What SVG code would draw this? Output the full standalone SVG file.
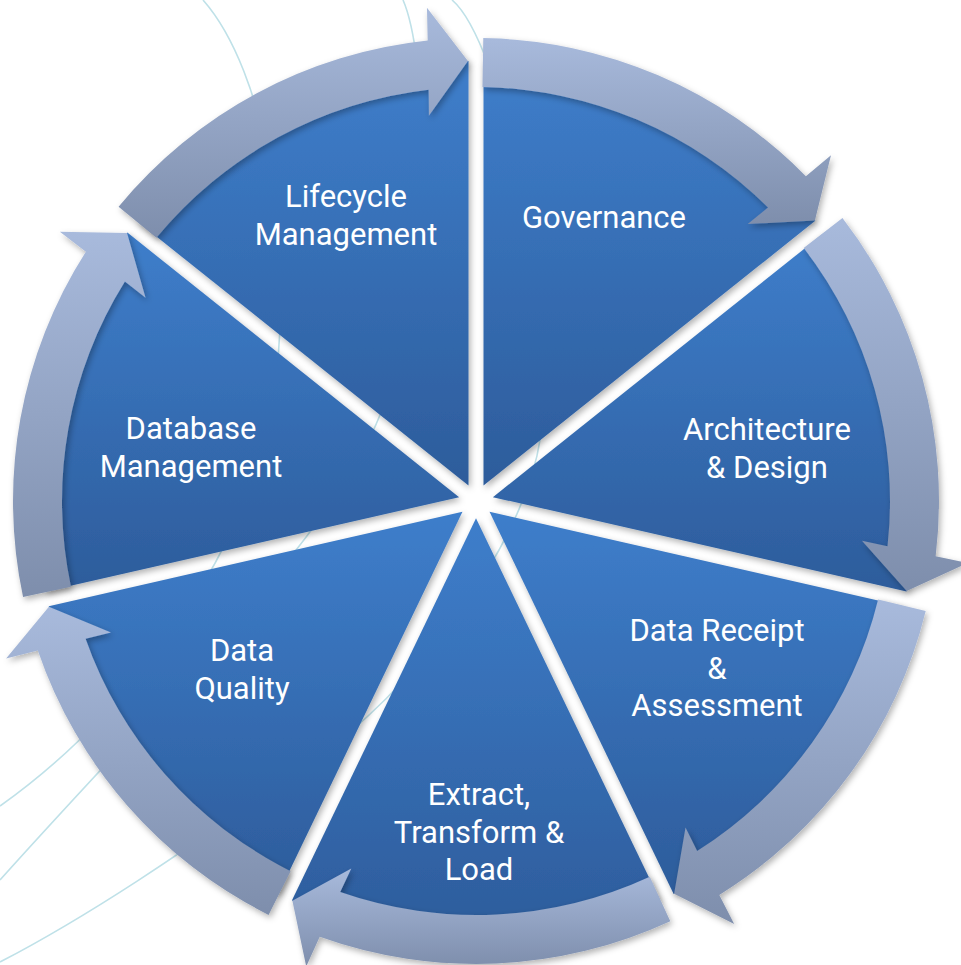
<svg xmlns="http://www.w3.org/2000/svg" width="961" height="965" viewBox="0 0 961 965">
<style>
.bg{fill:none;stroke:#BFE1E8;stroke-width:1.6}
.wedge{fill:url(#gw);filter:url(#sh)}
.arrow{fill:url(#ga);filter:url(#sh)}
.lbl{font-family:Roboto,"Open Sans","Liberation Sans",sans-serif;font-size:31px;fill:#fff;text-anchor:middle}
</style>
<defs>
<linearGradient id="gw" x1="0" y1="0" x2="0" y2="1">
<stop offset="0" stop-color="#3E7ECB"/>
<stop offset="1" stop-color="#2D5C9B"/>
</linearGradient>
<linearGradient id="ga" x1="0" y1="0" x2="0" y2="1">
<stop offset="0" stop-color="#A8BADC"/>
<stop offset="1" stop-color="#7E8EAC"/>
</linearGradient>
<filter id="sh" x="-10%" y="-10%" width="125%" height="125%">
<feDropShadow dx="2" dy="3" stdDeviation="3" flood-color="#000" flood-opacity="0.3"/>
</filter>
</defs>
<rect width="961" height="965" fill="#fff"/>
<g id="background">
<path class="bg" d="M203,0 C265,70 300,250 270,420 C250,530 150,700 0,806"/>
<path class="bg" d="M403,0 C425,50 440,250 380,415 C330,540 170,690 0,880"/>
<path class="bg" d="M452,0 C500,40 560,300 540,440 C525,540 420,690 300,770 C220,825 110,905 0,962"/>
</g>
<g id="governance">
<path class="wedge" d="M483.51,485.41 L483.50,61.06 A440,440 0 0 1 815.28,220.84 Z"/>
<text class="lbl" x="604" y="228">Governance</text>
</g>
<g id="architecture-design">
<path class="wedge" d="M492.87,497.15 L824.63,232.57 A440,440 0 0 1 906.58,591.58 Z"/>
<text class="lbl" x="767" y="440">Architecture<tspan x="767" dy="37.5">&amp; Design</tspan></text>
</g>
<g id="data-receipt-assessment">
<path class="wedge" d="M489.53,511.79 L903.24,606.21 A440,440 0 0 1 673.64,894.11 Z"/>
<text class="lbl" x="717" y="641">Data Receipt<tspan x="717" dy="37.5">&amp;</tspan><tspan x="717" dy="37.5">Assessment</tspan></text>
</g>
<g id="extract-transform-load">
<path class="wedge" d="M476,518.30 L660.12,900.62 A440,440 0 0 1 291.88,900.62 Z"/>
<text class="lbl" x="479" y="805">Extract,<tspan x="479" dy="37.5">Transform &amp;</tspan><tspan x="479" dy="37.5">Load</tspan></text>
</g>
<g id="data-quality">
<path class="wedge" d="M462.47,511.79 L278.36,894.11 A440,440 0 0 1 48.76,606.21 Z"/>
<text class="lbl" x="242" y="661">Data<tspan x="242" dy="37.5">Quality</tspan></text>
</g>
<g id="database-management">
<path class="wedge" d="M459.13,497.15 L45.42,591.58 A440,440 0 0 1 127.37,232.57 Z"/>
<text class="lbl" x="191" y="439">Database<tspan x="191" dy="38">Management</tspan></text>
</g>
<g id="lifecycle-management">
<path class="wedge" d="M468.49,485.41 L136.72,220.84 A440,440 0 0 1 468.50,61.06 Z"/>
<text class="lbl" x="346" y="207">Lifecycle<tspan x="346" dy="38">Management</tspan></text>
</g>
<g id="connectors">
<path class="arrow" d="M483.27,38.06 A463,463 0 0 1 805.89,176.13 L830.99,155.17 L814.92,220.41 L747.75,224.06 L768.02,207.54 A414,414 0 0 0 482.50,87.05 Z"/>
<path class="arrow" d="M842.48,218.05 A463,463 0 0 1 935.68,556.36 L967.72,562.92 L906.69,591.03 L861.95,540.80 L887.51,546.34 A414,414 0 0 0 803.69,247.99 Z"/>
<path class="arrow" d="M925.72,611.10 A463,463 0 0 1 719.32,894.91 L734.17,924.05 L674.14,893.86 L685.52,827.56 L697.13,851.00 A414,414 0 0 0 878.12,599.45 Z"/>
<path class="arrow" d="M670.31,921.25 A463,463 0 0 1 319.74,936.84 L306.22,966.61 L292.39,900.86 L351.32,868.42 L340.23,892.10 A414,414 0 0 0 649.75,876.78 Z"/>
<path class="arrow" d="M268.58,914.94 A463,463 0 0 1 37.82,650.57 L6.11,658.56 L48.90,606.75 L111.00,632.60 L85.57,638.70 A414,414 0 0 0 290.54,871.13 Z"/>
<path class="arrow" d="M23.05,596.92 A463,463 0 0 1 85.86,251.68 L59.84,231.86 L127.02,233.01 L145.54,297.69 L124.91,281.61 A414,414 0 0 0 70.98,586.77 Z"/>
<path class="arrow" d="M118.59,206.67 A463,463 0 0 1 427.69,40.53 L426.95,7.83 L467.94,61.07 L428.91,115.87 L428.63,89.72 A414,414 0 0 0 156.42,237.82 Z"/>
</g>
</svg>
